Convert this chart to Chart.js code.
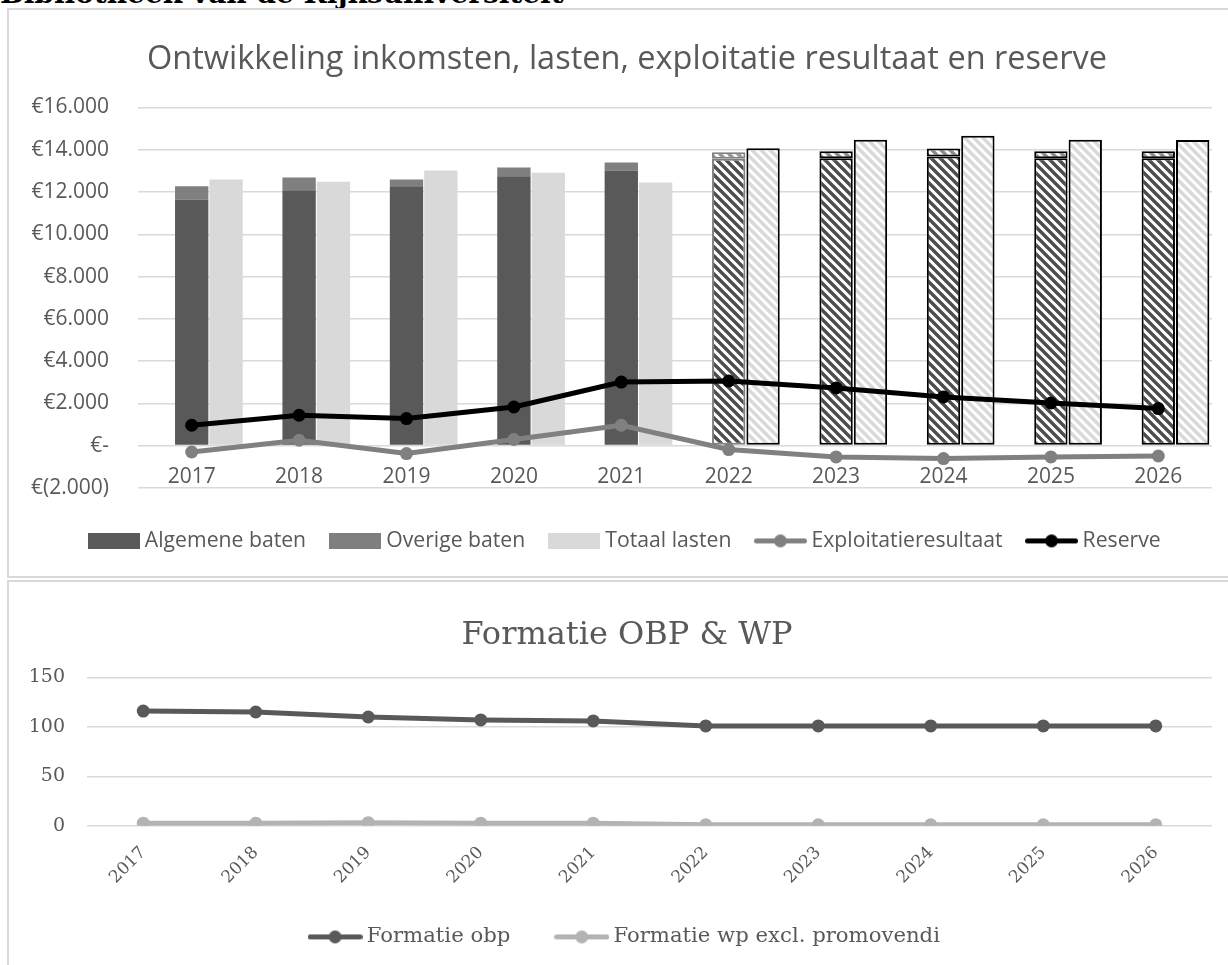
<!DOCTYPE html>
<html lang="nl">
<head>
<meta charset="utf-8">
<title>Bibliotheek van de Rijksuniversiteit – meerjarenbegroting</title>
<script src="https://cdn.jsdelivr.net/npm/chart.js@4.4.1/dist/chart.umd.min.js"></script>
<style>
  html, body { margin: 0; padding: 0; background: #fff; overflow: hidden; width: 1228px; height: 965px; }
  .kop { position: absolute; left: 0; top: -20px; margin: 0; font: bold 28px/28px "DejaVu Serif", serif; color: #000; white-space: nowrap; }
  .kader { position: absolute; left: 7px; width: 1260px; border: 2px solid #d9d9d9; box-sizing: border-box; }
  #kader1 { top: 8px; height: 570px; }
  #kader2 { top: 580px; height: 420px; }
  canvas { position: absolute; }
  #financien { left: 9px; top: 10px; }
  #formatie { left: 9px; top: 582px; }
</style>
</head>
<body>
<h1 class="kop">Bibliotheek van de Rijksuniversiteit</h1>
<div class="kader" id="kader1"></div>
<div class="kader" id="kader2"></div>
<canvas id="financien" width="1236" height="566"></canvas>
<canvas id="formatie" width="1236" height="383"></canvas>
<script>
// Jaren (realisatie t/m 2021, begroting vanaf 2022)
const years = ['2017', '2018', '2019', '2020', '2021', '2022', '2023', '2024', '2025', '2026'];
const firstBudgetYear = 2022;

// Bedragen x € 1.000
const algemeneBaten = [11630, 12085, 12275, 12750, 13015, 13570, 13600, 13680, 13600, 13600];
const overigeBaten = [645, 600, 315, 410, 380, 310, 330, 380, 330, 330];
const totaalLasten = [12590, 12480, 13015, 12910, 12450, 14070, 14470, 14660, 14470, 14460];
const exploitatieresultaat = [-305, 250, -380, 285, 960, -190, -540, -615, -540, -495];
const reserve = [960, 1435, 1275, 1825, 3005, 3055, 2725, 2300, 2015, 1750];

// Formatie in fte
const formatieObp = [116, 115, 110, 107, 106, 101, 101, 101, 101, 101];
const formatieWp = [2.7, 2.7, 3.2, 2.7, 2.7, 1, 1, 1, 1, 1];

// Schaal van de y-assen
const financeMin = -2000, financeMax = 16000, financeStep = 2000;
const staffMin = 0, staffMax = 150, staffStep = 50;

const GREY_TEXT = '#595959';
const GRID = '#d9d9d9';
const isBudget = years.map(y => Number(y) >= firstBudgetYear);

function euro(v) {
  if (v === 0) return '€-';
  const s = Math.abs(v).toString().replace(/\B(?=(\d{3})+(?!\d))/g, '.');
  return v < 0 ? '€(' + s + ')' : '€' + s;
}

// Diagonale arcering voor begrotingsjaren
function hatch(stripe, size, width) {
  const c = document.createElement('canvas');
  c.width = c.height = size;
  const g = c.getContext('2d');
  g.fillStyle = '#ffffff';
  g.fillRect(0, 0, size, size);
  g.strokeStyle = stripe;
  g.lineWidth = width;
  g.lineCap = 'square';
  g.beginPath();
  for (const k of [-size, 0, size]) {
    g.moveTo(-1, k - 1);
    g.lineTo(size + 1, k + size + 1);
  }
  g.stroke();
  return g.createPattern(c, 'repeat');
}

// Legendasymbolen
function swatch(color, w, h) {
  const c = document.createElement('canvas');
  c.width = w; c.height = h;
  const g = c.getContext('2d');
  g.fillStyle = color;
  g.fillRect(0, 0, w, h);
  return c;
}
function lineMarker(color, w, lw, r) {
  const c = document.createElement('canvas');
  c.width = w; c.height = r * 2 + 2;
  const g = c.getContext('2d');
  g.strokeStyle = color; g.fillStyle = color;
  g.lineWidth = lw; g.lineCap = 'round';
  g.beginPath(); g.moveTo(lw / 2, c.height / 2); g.lineTo(w - lw / 2, c.height / 2); g.stroke();
  g.beginPath(); g.arc(w / 2, c.height / 2, r, 0, Math.PI * 2); g.fill();
  return c;
}

// Lege as rechts: houdt ruimte vrij naast het plotgebied
const rightGutter = (w) => ({
  type: 'linear', position: 'right', display: true,
  afterFit: s => { s.width = w; },
  grid: { display: false, drawTicks: false },
  border: { display: false },
  ticks: { display: false }
});

const C_ALG = '#595959', C_OVR = '#7f7f7f', C_LAST = '#d9d9d9', C_EXPL = '#808080', C_RES = '#000000';
const patAlg = hatch('#4d4d4d', 9, 3.4);
const patOvr = hatch('#8c8c8c', 9, 3.4);
const patLast = hatch('#d9d9d9', 9, 3.4);

function barStyle(solid, pattern, firstBorder) {
  const first = isBudget.indexOf(true);
  return {
    backgroundColor: isBudget.map(b => b ? pattern : solid),
    borderColor: isBudget.map((b, i) => !b ? solid : (i === first && firstBorder ? firstBorder : '#000000')),
    borderWidth: isBudget.map(b => b ? 2 : 0),
    borderSkipped: false
  };
}

const financeLegend = [
  { text: 'Algemene baten', pointStyle: swatch(C_ALG, 52, 16) },
  { text: 'Overige baten', pointStyle: swatch(C_OVR, 52, 16) },
  { text: 'Totaal lasten', pointStyle: swatch(C_LAST, 52, 16) },
  { text: 'Exploitatieresultaat', pointStyle: lineMarker(C_EXPL, 53, 5, 6.5) },
  { text: 'Reserve', pointStyle: lineMarker(C_RES, 53, 5, 6.5) }
];

new Chart(document.getElementById('financien'), {
  type: 'bar',
  data: {
    labels: years,
    datasets: [
      {
        type: 'line', label: 'Reserve', data: reserve, order: 0, stack: 'reserve',
        borderColor: C_RES, backgroundColor: C_RES, borderWidth: 5,
        pointRadius: 6.5, pointBackgroundColor: C_RES, pointBorderWidth: 0, tension: 0
      },
      {
        type: 'line', label: 'Exploitatieresultaat', data: exploitatieresultaat, order: 0, stack: 'resultaat',
        borderColor: C_EXPL, backgroundColor: C_EXPL, borderWidth: 5,
        pointRadius: 6.5, pointBackgroundColor: C_EXPL, pointBorderWidth: 0, tension: 0
      },
      // lege kolom links, zodat de baten-kolom op het midden van het jaar staat
      { label: 'spacer', data: years.map(() => null), stack: 'spacer', order: 1, backgroundColor: 'rgba(0,0,0,0)' },
      Object.assign({ label: 'Algemene baten', data: algemeneBaten, stack: 'baten', order: 1 }, barStyle(C_ALG, patAlg, '#7f7f7f')),
      Object.assign({ label: 'Overige baten', data: overigeBaten, stack: 'baten', order: 1 }, barStyle(C_OVR, patOvr, '#7f7f7f')),
      Object.assign({ label: 'Totaal lasten', data: totaalLasten, stack: 'lasten', order: 1 }, barStyle(C_LAST, patLast, null))
    ]
  },
  options: {
    responsive: false,
    animation: false,
    events: [],
    categoryPercentage: 0.96,
    barPercentage: 0.97,
    layout: { padding: { left: 0, right: 0, top: 0, bottom: 14.5 } },
    scales: {
      x: {
        position: { y: 0 },
        stacked: true,
        grid: { display: false, drawTicks: false },
        border: { display: false },
        ticks: { color: GREY_TEXT, font: { family: '"Open Sans"', size: 21 }, padding: 19, maxRotation: 0, autoSkip: false }
      },
      y: {
        stacked: true,
        min: financeMin, max: financeMax,
        afterFit: s => { s.width = 129; },
        grid: { color: GRID, lineWidth: 1.5, drawTicks: false },
        border: { display: false },
        ticks: { stepSize: financeStep, color: GREY_TEXT, font: { family: '"Open Sans"', size: 21 }, padding: 29, callback: v => euro(v) }
      },
      yGutter: rightGutter(33)
    },
    plugins: {
      tooltip: { enabled: false },
      title: {
        display: true,
        text: 'Ontwikkeling inkomsten, lasten, exploitatie resultaat en reserve',
        color: GREY_TEXT,
        font: { family: '"Open Sans"', size: 32.5, weight: 'normal' },
        padding: { top: 30, bottom: 28.5 }
      },
      legend: {
        position: 'bottom',
        title: { display: true, text: '', font: { size: 1 }, padding: { top: 12.8, bottom: 0 } },
        labels: {
          color: GREY_TEXT,
          font: { family: '"Open Sans"', size: 21.2 },
          usePointStyle: true,
          pointStyleWidth: 41,
          padding: 28.5,
          generateLabels: () => financeLegend.map(e => ({
            text: e.text, pointStyle: e.pointStyle, fillStyle: 'transparent',
            strokeStyle: 'transparent', lineWidth: 0, hidden: false, fontColor: GREY_TEXT
          }))
        }
      }
    }
  }
});

const C_OBP = '#595959', C_WP = '#b3b3b3';
const staffLegend = [
  { text: 'Formatie obp', pointStyle: lineMarker(C_OBP, 55, 5, 6.5) },
  { text: 'Formatie wp excl. promovendi', pointStyle: lineMarker(C_WP, 55, 5, 6.5) }
];

new Chart(document.getElementById('formatie'), {
  type: 'line',
  data: {
    labels: years,
    datasets: [
      {
        label: 'Formatie obp', data: formatieObp,
        borderColor: C_OBP, backgroundColor: C_OBP, borderWidth: 5,
        pointRadius: 6.5, pointBackgroundColor: C_OBP, pointBorderWidth: 0, tension: 0
      },
      {
        label: 'Formatie wp excl. promovendi', data: formatieWp,
        borderColor: C_WP, backgroundColor: C_WP, borderWidth: 5,
        pointRadius: 6.5, pointBackgroundColor: C_WP, pointBorderWidth: 0, tension: 0
      }
    ]
  },
  options: {
    responsive: false,
    animation: false,
    events: [],
    layout: { padding: { left: 0, right: 0, top: 0, bottom: 7.5 } },
    scales: {
      x: {
        position: { y: 0 },
        offset: true,
        grid: { display: false, drawTicks: false },
        border: { display: false },
        ticks: { color: GREY_TEXT, font: { family: '"DejaVu Serif"', size: 17 }, padding: 17, minRotation: 45, maxRotation: 45, autoSkip: false }
      },
      y: {
        min: staffMin, max: staffMax,
        afterFit: s => { s.width = 78; },
        grid: { color: GRID, lineWidth: 1.5, drawTicks: false },
        border: { display: false },
        ticks: { stepSize: staffStep, color: GREY_TEXT, font: { family: '"DejaVu Serif"', size: 19 }, padding: 22 }
      },
      yGutter: rightGutter(33)
    },
    plugins: {
      tooltip: { enabled: false },
      title: {
        display: true,
        text: 'Formatie OBP & WP',
        color: GREY_TEXT,
        font: { family: '"DejaVu Serif"', size: 32, weight: 'normal' },
        padding: { top: 34, bottom: 23 }
      },
      legend: {
        position: 'bottom',
        title: { display: true, text: '', font: { size: 1 }, padding: { top: 48.8, bottom: 0 } },
        labels: {
          color: GREY_TEXT,
          font: { family: '"DejaVu Serif"', size: 21.2 },
          usePointStyle: true,
          pointStyleWidth: 42,
          padding: 50.5,
          generateLabels: () => staffLegend.map(e => ({
            text: e.text, pointStyle: e.pointStyle, fillStyle: 'transparent',
            strokeStyle: 'transparent', lineWidth: 0, hidden: false, fontColor: GREY_TEXT
          }))
        }
      }
    }
  }
});
</script>
</body>
</html>
